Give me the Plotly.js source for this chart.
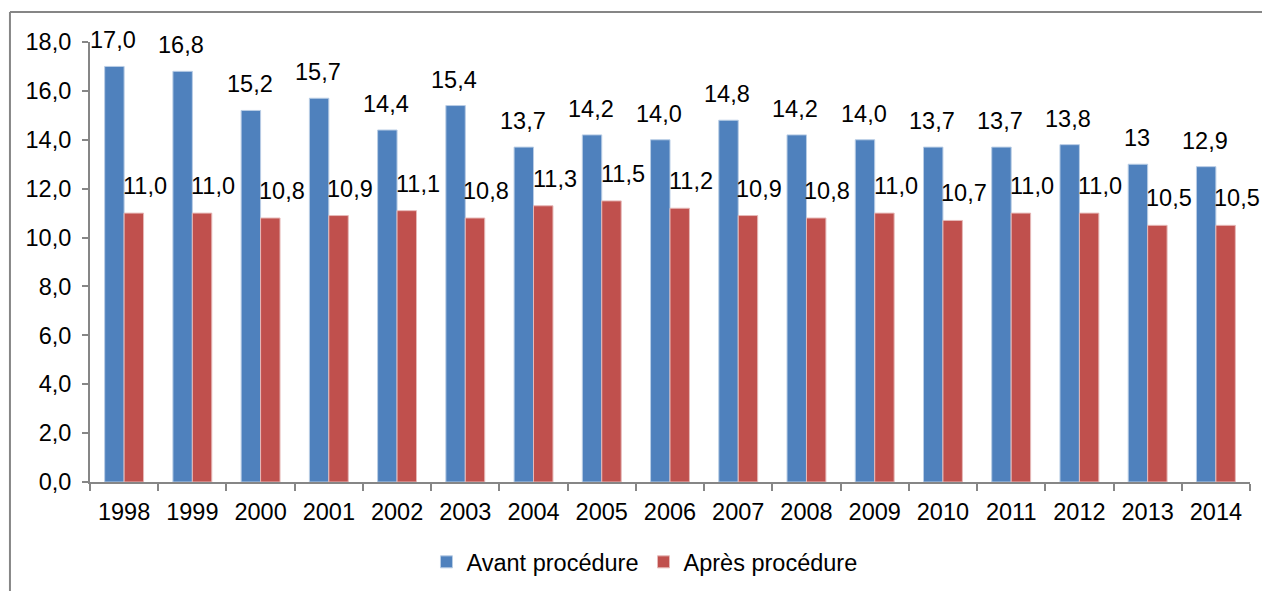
<!DOCTYPE html>
<html>
<head>
<meta charset="utf-8">
<script src="https://cdn.plot.ly/plotly-3.0.1.min.js"></script>
<style>html,body{margin:0;padding:0;background:#fff;}#chart{width:1262px;height:591px;}</style>
</head>
<body>
<div id="chart"></div>
<script>
const years = ["1998","1999","2000","2001","2002","2003","2004","2005","2006","2007","2008","2009","2010","2011","2012","2013","2014"];
const avant = [17.0,16.8,15.2,15.7,14.4,15.4,13.7,14.2,14.0,14.8,14.2,14.0,13.7,13.7,13.8,13.0,12.9];
const apres = [11.0,11.0,10.8,10.9,11.1,10.8,11.3,11.5,11.2,10.9,10.8,11.0,10.7,11.0,11.0,10.5,10.5];
const avantLabels = ["17,0","16,8","15,2","15,7","14,4","15,4","13,7","14,2","14,0","14,8","14,2","14,0","13,7","13,7","13,8","13","12,9"];
const apresLabels = ["11,0","11,0","10,8","10,9","11,1","10,8","11,3","11,5","11,2","10,9","10,8","11,0","10,7","11,0","11,0","10,5","10,5"];
const yTicks = [0,2,4,6,8,10,12,14,16,18];
const yTickText = ["0,0","2,0","4,0","6,0","8,0","10,0","12,0","14,0","16,0","18,0"];

const FONT = "Liberation Sans, Arial, sans-serif";
const FS = 23.5;
const annotations = [];
years.forEach((y,i)=>{
  annotations.push({x:i, y:avant[i], xref:'x', yref:'y', text:avantLabels[i], showarrow:false,
    xshift:-11, yshift:26, yanchor:'middle', font:{family:FONT,size:FS,color:'#000'}});
  annotations.push({x:i, y:apres[i], xref:'x', yref:'y', text:apresLabels[i], showarrow:false,
    xshift:21, yshift:27, yanchor:'middle', font:{family:FONT,size:FS,color:'#000'}});
});

const data = [
  {type:'bar', name:'Avant procédure', x:years, y:avant,
   marker:{color:'#4F81BD', line:{color:'#B9CDE5', width:1}}, hoverinfo:'x+y'},
  {type:'bar', name:'Après procédure', x:years, y:apres,
   marker:{color:'#C0504D', line:{color:'#E6B9B8', width:1}}, hoverinfo:'x+y'}
];

const layout = {
  width:1262, height:591,
  margin:{l:90, r:12, t:42, b:109, autoexpand:false},
  paper_bgcolor:'#fff', plot_bgcolor:'#fff',
  barmode:'group', bargap:0.43, bargroupgap:0,
  font:{family:FONT, size:FS, color:'#000'},
  xaxis:{type:'category', range:[-0.5,16.5], autorange:false, showline:true, linecolor:'#868686', linewidth:2,
    ticks:'outside', tickson:'boundaries', ticklen:7, tickcolor:'#868686', tickwidth:2, tickangle:0,
    ticklabelstandoff:8, automargin:false,
    showgrid:false, zeroline:false, tickfont:{family:FONT,size:FS,color:'#000'}},
  yaxis:{range:[0,18], autorange:false, tickvals:yTicks, ticktext:yTickText, showline:true, linecolor:'#868686', linewidth:2,
    ticks:'outside', ticklen:6, tickcolor:'#868686', tickwidth:2, showgrid:false, zeroline:false,
    ticklabelstandoff:6, automargin:false,
    tickfont:{family:FONT,size:FS,color:'#000'}},
  showlegend:true,
  legend:{orientation:'h', x:0.478, xanchor:'center', y:-0.182, yanchor:'middle',
    font:{family:FONT,size:FS,color:'#000'}, itemwidth:30, traceorder:'normal'},
  annotations:annotations,
  shapes:[
    {type:'line', xref:'paper', yref:'paper', x0:-0.0690, x1:-0.0690, y0:-0.3, y1:1.068, line:{color:'#868686', width:2}},
    {type:'line', xref:'paper', yref:'paper', x0:-0.0690, x1:1.05, y0:1.068, y1:1.068, line:{color:'#868686', width:2}}
  ]
};

Plotly.newPlot('chart', data, layout, {displayModeBar:false, staticPlot:true});
</script>
</body>
</html>
